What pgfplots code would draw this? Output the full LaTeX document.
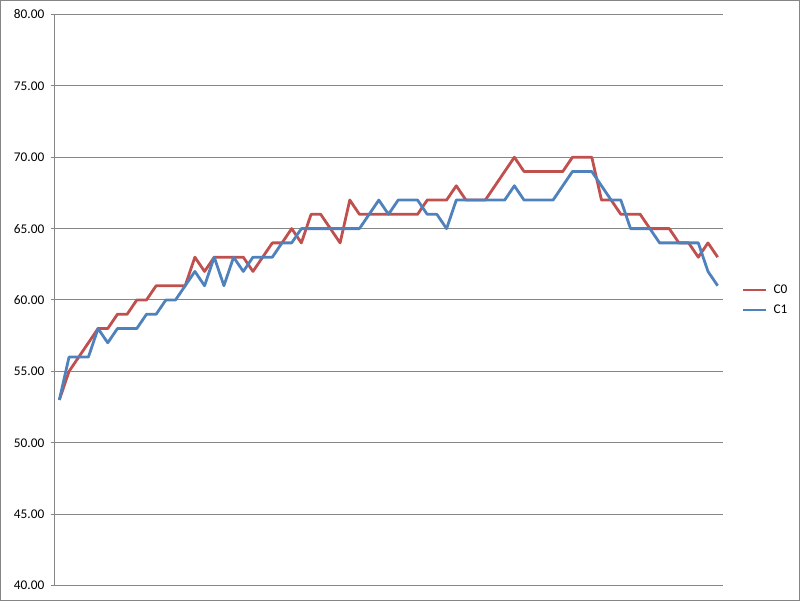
\documentclass[border=0pt]{standalone}
\usepackage{fontspec}
\setmainfont{Carlito}
\usepackage{pgfplots}
\pgfplotsset{compat=1.18}
\definecolor{cred}{HTML}{C0504D}
\definecolor{cblue}{HTML}{4F81BD}
\definecolor{gridc}{HTML}{868686}
\begin{document}
\begin{tikzpicture}[x=1pt,y=1pt]
\useasboundingbox (0,0) rectangle (800,601);
\draw[gridc, line width=1pt] (0.5,0.5) rectangle (799.5,600.5);
\begin{axis}[
  at={(54.5pt,15.5pt)}, anchor=south west,
  scale only axis, width=668pt, height=571pt,
  xmin=-0.5, xmax=68.5, ymin=40, ymax=80,
  ytick={40,45,...,80},
  xtick=\empty,
  axis x line*=bottom, axis y line*=left,
  axis line style={gridc, line width=1pt},
  ymajorgrids, major grid style={gridc, line width=1pt},
  tick align=outside, major tick length=4pt,
  ytick style={gridc, line width=1pt},
  yticklabel style={font=\fontsize{13.3}{15}\selectfont, inner sep=0pt, anchor=east, xshift=-6pt},
  /pgf/number format/.cd, fixed, fixed zerofill, precision=2, assume math mode=true,
  /pgfplots/.cd,
  legend style={draw=none, fill=none, inner sep=0pt, at={(1.0285,0.5)}, anchor=west,
    font=\fontsize{13.3}{15}\selectfont, row sep=10pt,
    nodes={inner sep=0pt, anchor=west}},
  legend cell align=left,
  legend image code/.code={\draw[#1] (0pt,0pt) -- (23pt,0pt); \path (29pt,0pt);},
]
\addplot[cred, line width=2.8pt, line join=round] coordinates {
(0,53)(1,55)(2,56)(3,57)(4,58)(5,58)(6,59)(7,59)(8,60)(9,60)
(10,61)(11,61)(12,61)(13,61)(14,63)(15,62)(16,63)(17,63)(18,63)(19,63)
(20,62)(21,63)(22,64)(23,64)(24,65)(25,64)(26,66)(27,66)(28,65)(29,64)
(30,67)(31,66)(32,66)(33,66)(34,66)(35,66)(36,66)(37,66)(38,67)(39,67)
(40,67)(41,68)(42,67)(43,67)(44,67)(45,68)(46,69)(47,70)(48,69)(49,69)
(50,69)(51,69)(52,69)(53,70)(54,70)(55,70)(56,67)(57,67)(58,66)(59,66)
(60,66)(61,65)(62,65)(63,65)(64,64)(65,64)(66,63)(67,64)(68,63)};
\addlegendentry{C0}
\addplot[cblue, line width=2.8pt, line join=round] coordinates {
(0,53)(1,56)(2,56)(3,56)(4,58)(5,57)(6,58)(7,58)(8,58)(9,59)
(10,59)(11,60)(12,60)(13,61)(14,62)(15,61)(16,63)(17,61)(18,63)(19,62)
(20,63)(21,63)(22,63)(23,64)(24,64)(25,65)(26,65)(27,65)(28,65)(29,65)
(30,65)(31,65)(32,66)(33,67)(34,66)(35,67)(36,67)(37,67)(38,66)(39,66)
(40,65)(41,67)(42,67)(43,67)(44,67)(45,67)(46,67)(47,68)(48,67)(49,67)
(50,67)(51,67)(52,68)(53,69)(54,69)(55,69)(56,68)(57,67)(58,67)(59,65)
(60,65)(61,65)(62,64)(63,64)(64,64)(65,64)(66,64)(67,62)(68,61)};
\addlegendentry{C1}
\end{axis}
\end{tikzpicture}
\end{document}
